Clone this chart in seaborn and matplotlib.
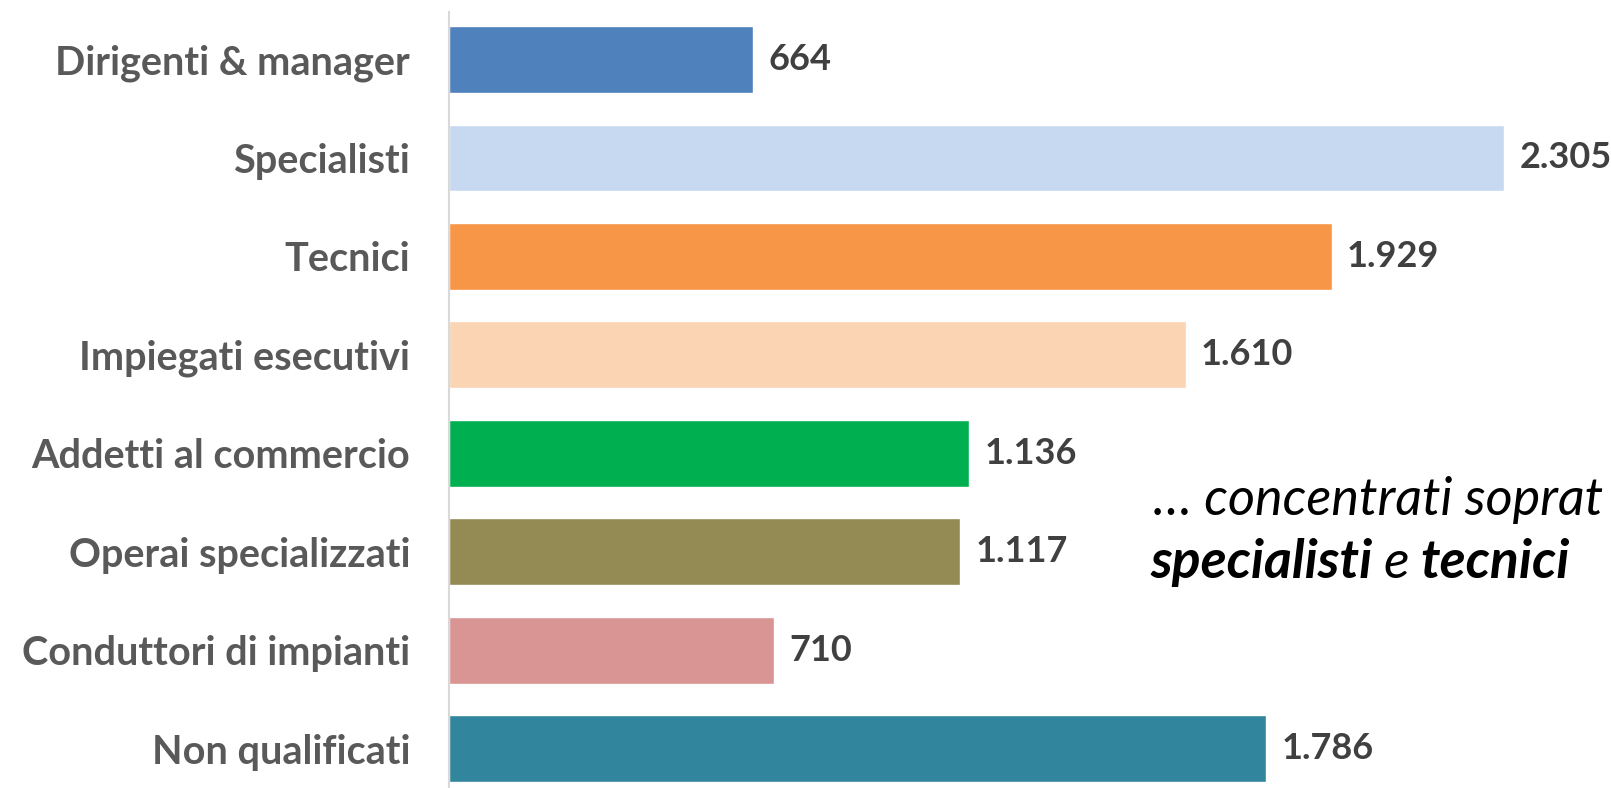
import seaborn as sns
import matplotlib.pyplot as plt
import pandas as pd

categories = ["Dirigenti & manager", "Specialisti", "Tecnici", "Impiegati esecutivi",
              "Addetti al commercio", "Operai specializzati", "Conduttori di impianti",
              "Non qualificati"]
values = [664, 2305, 1929, 1610, 1136, 1117, 710, 1786]
colors = ["#4F81BD", "#C6D9F0", "#F79646", "#FBD4B4", "#00B050", "#948A54", "#D99594", "#31859C"]

df = pd.DataFrame({"cat": categories, "val": values})

sns.set_style("white")
plt.rcParams['font.family'] = ['Lato', 'DejaVu Sans']

fig = plt.figure(figsize=(16.11, 7.88), dpi=100)
ax = fig.add_axes([449 / 1611, 0, 1162 / 1611, 776 / 788])

sns.barplot(data=df, x="val", y="cat", hue="cat", palette=colors, legend=False,
            width=0.68, saturation=1, ax=ax)

ax.set_xlim(0, 2539)
ax.set_ylim(7.401, -0.483)
ax.set_xlabel("")
ax.set_ylabel("")
ax.set_xticks([])

for s in ["top", "right", "bottom"]:
    ax.spines[s].set_visible(False)
ax.spines["left"].set_color("#D9D9D9")
ax.spines["left"].set_linewidth(1.5)

ax.tick_params(axis="y", length=0, pad=28)
for lab in ax.get_yticklabels():
    lab.set_fontsize(28.5)
    lab.set_fontweight("bold")
    lab.set_color("#595959")

for cont in ax.containers:
    ax.bar_label(cont, labels=[f"{v:,.0f}".replace(",", ".") for v in cont.datavalues],
                 padding=11, fontsize=26, fontweight="bold", color="#404040")

# annotation (the reference is cut at the right edge)
fs = 38.5
fig.text(1153 / 1611, 1 - 515 / 788, "\u2026 concentrati soprat", fontsize=37.5,
         style="italic", fontweight="normal", color="black", ha="left", va="baseline")
t1 = fig.text(1150 / 1611, 1 - 578 / 788, "specialisti", fontsize=fs, style="italic",
              fontweight="bold", color="black", ha="left", va="baseline")
fig.canvas.draw()
r = fig.canvas.get_renderer()
bb = t1.get_window_extent(r)
t2 = fig.text(bb.x1 / 1611 + 0.007, 1 - 578 / 788, "e", fontsize=fs, style="italic",
              fontweight="normal", color="black", ha="left", va="baseline")
bb2 = t2.get_window_extent(r)
fig.text(bb2.x1 / 1611 + 0.007, 1 - 578 / 788, "tecnici", fontsize=fs, style="italic",
         fontweight="bold", color="black", ha="left", va="baseline")

fig.savefig("out.png", dpi=100)
